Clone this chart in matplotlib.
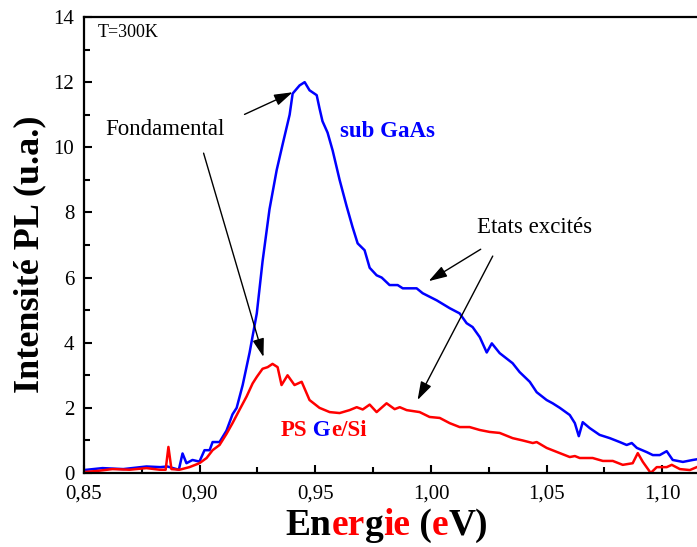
import numpy as np
import matplotlib
matplotlib.use("Agg")
import matplotlib.pyplot as plt
from matplotlib.ticker import MultipleLocator, FixedLocator, FixedFormatter

plt.rcParams['font.family'] = ['Liberation Serif', 'DejaVu Serif']

# sub GaAs (blue)
e_gaas = [0.850, 0.858, 0.867, 0.877, 0.883, 0.886, 0.891, 0.8926, 0.8943, 0.8969,
          0.8999, 0.9021, 0.9043, 0.9056, 0.9086, 0.9116, 0.9142, 0.9160, 0.9186, 0.9216,
          0.9247, 0.9272, 0.9302, 0.9333, 0.9359, 0.9389, 0.9402, 0.9432, 0.9454, 0.9475,
          0.9506, 0.9518, 0.9531, 0.9553, 0.9575, 0.9605, 0.9635, 0.9661, 0.9683, 0.9713,
          0.9735, 0.9765, 0.9787, 0.9821, 0.9856, 0.9878, 0.9938, 0.9964, 1.0025, 1.0081,
          1.0124, 1.0154, 1.0180, 1.0211, 1.0241, 1.0263, 1.0297, 1.0353, 1.0383, 1.0427,
          1.0457, 1.0500, 1.0526, 1.0557, 1.0600, 1.0622, 1.0639, 1.0656, 1.0686, 1.0729,
          1.0773, 1.0816, 1.0846, 1.0868, 1.0890, 1.0933, 1.0959, 1.0989, 1.1019, 1.1045,
          1.1089, 1.1132, 1.1149]
i_gaas = [0.09, 0.15, 0.12, 0.20, 0.18, 0.20, 0.10, 0.60, 0.30, 0.40,
          0.35, 0.70, 0.70, 0.95, 0.95, 1.30, 1.80, 2.00, 2.70, 3.70,
          4.90, 6.50, 8.10, 9.30, 10.10, 11.00, 11.65, 11.90, 12.00, 11.75,
          11.60, 11.20, 10.80, 10.45, 9.90, 9.00, 8.20, 7.55, 7.05, 6.84,
          6.30, 6.07, 6.00, 5.77, 5.77, 5.67, 5.67, 5.52, 5.30, 5.06,
          4.90, 4.60, 4.48, 4.17, 3.70, 3.98, 3.68, 3.37, 3.10, 2.80,
          2.48, 2.24, 2.14, 2.00, 1.78, 1.53, 1.13, 1.56, 1.38, 1.17,
          1.07, 0.95, 0.86, 0.92, 0.77, 0.64, 0.55, 0.55, 0.67, 0.40,
          0.34, 0.40, 0.42]

# PS Ge/Si (red)
e_ps = [0.850, 0.8554, 0.8623, 0.8697, 0.8770, 0.8827, 0.8853, 0.8865, 0.8878, 0.8913,
        0.8956, 0.8999, 0.9030, 0.9056, 0.9086, 0.9116, 0.9142, 0.9173, 0.9203, 0.9229,
        0.9247, 0.9272, 0.9294, 0.9315, 0.9337, 0.9354, 0.9380, 0.9410, 0.9441, 0.9475,
        0.9518, 0.9562, 0.9605, 0.9648, 0.9679, 0.9705, 0.9735, 0.9765, 0.9808, 0.9843,
        0.9865, 0.9895, 0.9951, 0.9994, 1.0038, 1.0081, 1.0124, 1.0167, 1.0211, 1.0254,
        1.0297, 1.0353, 1.0396, 1.0440, 1.0457, 1.0500, 1.0557, 1.0600, 1.0622, 1.0643,
        1.0699, 1.0743, 1.0786, 1.0829, 1.0872, 1.0894, 1.0916, 1.0950, 1.0976, 1.1019,
        1.1041, 1.1076, 1.1119, 1.1149]
i_ps = [0.03, 0.06, 0.12, 0.10, 0.15, 0.10, 0.10, 0.80, 0.12, 0.10,
        0.18, 0.30, 0.46, 0.70, 0.86, 1.20, 1.53, 1.95, 2.35, 2.75,
        2.95, 3.20, 3.25, 3.35, 3.25, 2.70, 3.00, 2.70, 2.80, 2.24,
        2.00, 1.87, 1.84, 1.93, 2.02, 1.95, 2.10, 1.87, 2.14, 1.96,
        2.02, 1.93, 1.87, 1.72, 1.69, 1.53, 1.41, 1.41, 1.32, 1.26,
        1.23, 1.07, 1.00, 0.92, 0.95, 0.77, 0.61, 0.49, 0.52, 0.46,
        0.46, 0.37, 0.37, 0.25, 0.30, 0.61, 0.34, 0.00, 0.18, 0.18,
        0.25, 0.12, 0.09, 0.18]

xticks = [0.85, 0.90, 0.95, 1.00, 1.05, 1.10]
xtick_labels = ['0,85', '0,90', '0,95', '1,00', '1,05', '1,10']
yticks = [0, 2, 4, 6, 8, 10, 12, 14]

fig = plt.figure(figsize=(6.97, 5.47), dpi=100)
ax = fig.add_axes([0.1205, 0.1353, 0.8795, 0.8336])

ax.plot(e_gaas, i_gaas, color='#0000ff', lw=1.8)
ax.plot(e_ps, i_ps, color='#ff0000', lw=1.8)

ax.set_xlim(0.85, 1.115)
ax.set_ylim(0, 14)
ax.xaxis.set_major_locator(FixedLocator(xticks))
ax.xaxis.set_major_formatter(FixedFormatter(xtick_labels))
ax.xaxis.set_minor_locator(MultipleLocator(0.025))
ax.yaxis.set_major_locator(FixedLocator(yticks))
ax.yaxis.set_minor_locator(MultipleLocator(1))
ax.tick_params(which='both', direction='in', top=False, right=False, labelsize=15, width=1.5)
ax.tick_params(which='major', length=6)
ax.tick_params(axis='x', which='major', pad=8)
ax.tick_params(axis='y', which='major', pad=7)
ax.tick_params(which='minor', length=4)
for s in ['left', 'bottom', 'top']:
    ax.spines[s].set_linewidth(1.6)
ax.spines['right'].set_visible(False)

# text labels
ax.text(0.8558, 13.53, 'T=300K', fontsize=13, ha='left', va='center')
ax.text(0.8593, 10.55, 'Fondamental', fontsize=16.5, ha='left', va='center')
ax.text(1.0197, 7.55, 'Etats excités', fontsize=16.5, ha='left', va='center')
ax.text(0.9605, 10.49, 'sub GaAs', fontsize=16.5, fontweight='bold', color='#0000ff',
        ha='left', va='center')

arrow = dict(arrowstyle='-|>,head_length=0.7,head_width=0.22', color='black', lw=1,
             mutation_scale=16, shrinkA=0, shrinkB=0)
ax.annotate('', xy=(0.9402, 11.69), xytext=(0.9194, 11.01), arrowprops=arrow)
ax.annotate('', xy=(0.9276, 3.56), xytext=(0.9017, 9.82), arrowprops=arrow)
ax.annotate('', xy=(0.9990, 5.89), xytext=(1.0215, 6.87), arrowprops=arrow)
ax.annotate('', xy=(0.9942, 2.24), xytext=(1.0267, 6.66), arrowprops=arrow)


def chain(first, pieces, **kw):
    prev = first
    for txt, col in pieces:
        prev = ax.annotate(txt, xy=(1, 0), xycoords=prev, ha='left', va='bottom',
                           color=col, annotation_clip=False, **kw)
    return prev


# PS Ge/Si multicolour label
ps_kw = dict(fontsize=16.5, fontweight='bold')
t0 = ax.text(0.935, 1.29, 'PS', color='#ff0000', ha='left', va='center', **ps_kw)
chain(t0, [(' G', '#0000ff'), ('e/Si', '#ff0000')], **ps_kw)

# x label with coloured letters
xl_kw = dict(fontsize=27, fontweight='bold')
full = fig.text(0.555, 0.04, 'Energie (eV)', ha='center', va='center', alpha=0, **xl_kw)
pieces = [('En', 'black'), ('er', '#ff0000'), ('g', 'black'), ('ie', '#ff0000'),
          (' (', 'black'), ('e', '#ff0000'), ('V)', 'black')]
p0 = ax.annotate(pieces[0][0], xy=(0, 0), xycoords=full, ha='left', va='bottom',
                 color=pieces[0][1], annotation_clip=False, **xl_kw)
chain(p0, pieces[1:], **xl_kw)

fig.text(0.043, 1 - 254 / 547, 'Intensité PL (u.a.)', rotation=90, ha='center', va='center',
         fontsize=26, fontweight='bold')

fig.savefig('out.png', dpi=100)
